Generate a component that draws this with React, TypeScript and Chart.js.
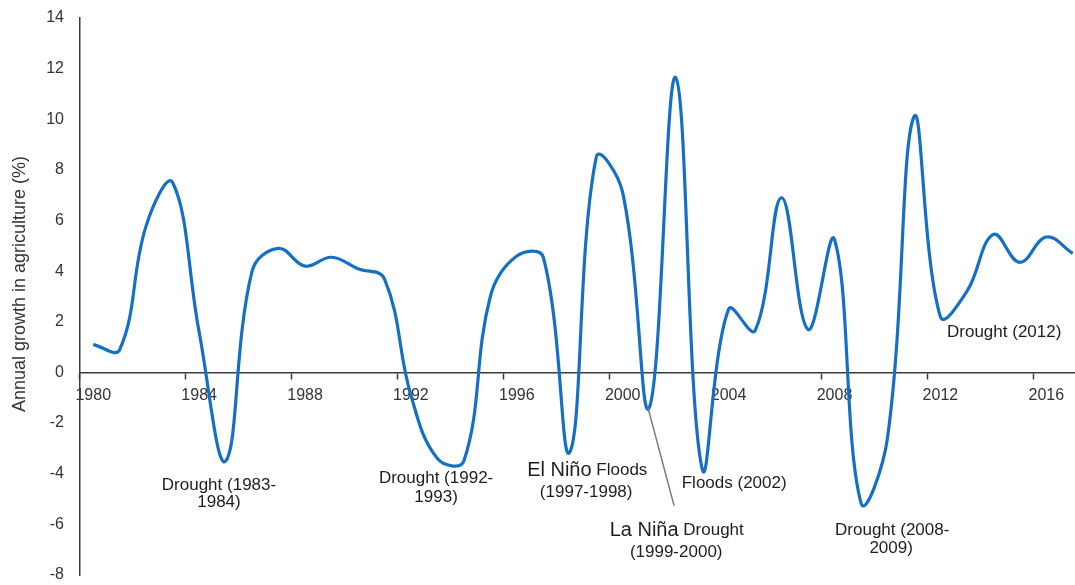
import React, { useEffect, useRef } from 'react';
import { Chart, registerables } from 'chart.js';

Chart.register(...registerables);

// ---- data ----
const YEARS: string[] = [
  '1980', '1981', '1982', '1983', '1984', '1985', '1986', '1987', '1988', '1989',
  '1990', '1991', '1992', '1993', '1994', '1995', '1996', '1997', '1998', '1999',
  '2000', '2001', '2002', '2003', '2004', '2005', '2006', '2007', '2008', '2009',
  '2010', '2011', '2012', '2013', '2014', '2015', '2016', '2017',
];

const GROWTH: number[] = [
  1.1, 0.9, 5.8, 7.5, 1.6, -3.5, 4.0, 4.9, 4.2, 4.55,
  4.1, 3.7, -0.9, -3.4, -3.5, 3.0, 4.6, 4.55, -3.15, 8.5,
  7.1, -1.4, 11.65, -3.8, 2.5, 1.65, 6.9, 1.7, 5.25, -5.15,
  -2.6, 10.1, 2.2, 3.2, 5.45, 4.35, 5.35, 4.7,
];

const Y_MIN = -8;
const Y_MAX = 14;
const Y_STEP = 2;
const X_LABEL_EVERY = 4;
const Y_TITLE = 'Annual growth in agriculture (%)';

type Seg = { text: string; big?: boolean };
type Line = { at: number; value: number; segs: Seg[] };

// annotation anchors in data space: `at` = category index, `value` = y value
const ANNOTATIONS: Line[] = [
  { at: 4.75, value: -4.47, segs: [{ text: 'Drought (1983-' }] },
  { at: 4.75, value: -5.14, segs: [{ text: '1984)' }] },
  { at: 12.95, value: -4.19, segs: [{ text: 'Drought (1992-' }] },
  { at: 12.95, value: -4.94, segs: [{ text: '1993)' }] },
  { at: 18.66, value: -3.87, segs: [{ text: 'El Niño', big: true }, { text: ' Floods' }] },
  { at: 18.62, value: -4.74, segs: [{ text: '(1997-1998)' }] },
  { at: 22.04, value: -6.25, segs: [{ text: 'La Niña', big: true }, { text: ' Drought' }] },
  { at: 22.02, value: -7.11, segs: [{ text: '(1999-2000)' }] },
  { at: 24.21, value: -4.39, segs: [{ text: 'Floods (2002)' }] },
  { at: 30.18, value: -6.25, segs: [{ text: 'Drought (2008-' }] },
  { at: 30.14, value: -6.96, segs: [{ text: '2009)' }] },
  { at: 34.41, value: 1.58, segs: [{ text: 'Drought (2012)' }] },
];

// leader line from the 2000/01 dip to the La Niña note
const LEADER = { from: { at: 20.95, value: -1.38 }, to: { at: 21.94, value: -5.26 } };

const FONT = '"Liberation Sans", Arial, sans-serif';
const SMALL_FONT = `17px ${FONT}`;
const BIG_FONT = `20px ${FONT}`;
const TEXT_COLOR = '#1e1e1e';
const AXIS_COLOR = '#3c3c3c';
const LINE_COLOR = '#1570c4';

const annotationPlugin = {
  id: 'annotations',
  afterDraw(chart: any) {
    const { ctx } = chart;
    const xs = chart.scales.x;
    const ys = chart.scales.y;

    // y-axis title
    ctx.save();
    ctx.translate(20, 284);
    ctx.rotate(-Math.PI / 2);
    ctx.font = `18px ${FONT}`;
    ctx.fillStyle = '#333';
    ctx.textAlign = 'center';
    ctx.textBaseline = 'middle';
    ctx.fillText(Y_TITLE, 0, 0);
    ctx.restore();

    // leader line
    ctx.save();
    ctx.strokeStyle = '#7a7a7a';
    ctx.lineWidth = 1.5;
    ctx.beginPath();
    ctx.moveTo(xs.getPixelForValue(LEADER.from.at), ys.getPixelForValue(LEADER.from.value));
    ctx.lineTo(xs.getPixelForValue(LEADER.to.at), ys.getPixelForValue(LEADER.to.value));
    ctx.stroke();
    ctx.restore();

    // notes
    ctx.save();
    ctx.fillStyle = TEXT_COLOR;
    ctx.textBaseline = 'middle';
    ctx.textAlign = 'left';
    for (const line of ANNOTATIONS) {
      const cx = xs.getPixelForValue(line.at);
      const cy = ys.getPixelForValue(line.value);
      const widths = line.segs.map((s) => {
        ctx.font = s.big ? BIG_FONT : SMALL_FONT;
        return ctx.measureText(s.text).width;
      });
      const total = widths.reduce((a, b) => a + b, 0);
      let x = cx - total / 2;
      line.segs.forEach((s, i) => {
        ctx.font = s.big ? BIG_FONT : SMALL_FONT;
        ctx.fillText(s.text, x, cy);
        x += widths[i];
      });
    }
    ctx.restore();
  },
};

export default function App() {
  const canvasRef = useRef<HTMLCanvasElement | null>(null);

  useEffect(() => {
    if (!canvasRef.current) return;
    const chart = new Chart(canvasRef.current, {
      type: 'line',
      data: {
        labels: YEARS,
        datasets: [
          {
            data: GROWTH,
            borderColor: LINE_COLOR,
            borderWidth: 3.2,
            pointRadius: 0,
            pointHoverRadius: 0,
            tension: 0.4,
            fill: false,
          },
        ],
      },
      options: {
        animation: false,
        responsive: true,
        maintainAspectRatio: false,
        layout: { padding: { top: 18, bottom: 10, left: 0, right: 0 } },
        plugins: {
          legend: { display: false },
          tooltip: { enabled: false },
        },
        scales: {
          x: {
            type: 'category',
            position: { y: 0 } as any,
            offset: true,
            grid: {
              display: true,
              offset: true,
              drawOnChartArea: false,
              drawTicks: true,
              tickLength: 6,
              tickWidth: 1.5,
              tickColor: (c: any) => (c.index % X_LABEL_EVERY === 0 ? AXIS_COLOR : 'rgba(0,0,0,0)'),
            },
            border: { display: true, color: AXIS_COLOR, width: 1.5 },
            ticks: {
              autoSkip: false,
              maxRotation: 0,
              minRotation: 0,
              padding: 8,
              color: '#333',
              font: { family: FONT, size: 16 },
              callback: (_v: any, i: number) => (i % X_LABEL_EVERY === 0 ? YEARS[i] : ''),
            },
          },
          y: {
            min: Y_MIN,
            max: Y_MAX,
            grid: {
              display: true,
              drawOnChartArea: false,
              drawTicks: true,
              tickLength: 16,
              tickColor: 'rgba(0,0,0,0)',
            },
            border: { display: true, color: AXIS_COLOR, width: 1.5 },
            ticks: {
              stepSize: Y_STEP,
              padding: 0,
              color: '#333',
              font: { family: FONT, size: 16 },
            },
            afterFit: (s: any) => {
              s.width = 80;
            },
          },
        },
      },
      plugins: [annotationPlugin],
    });
    return () => chart.destroy();
  }, []);

  return (
    <div
      style={{
        position: 'fixed',
        left: 0,
        top: 0,
        width: 1075,
        height: 585,
        overflow: 'hidden',
        background: '#fff',
      }}
    >
      <div style={{ position: 'relative', width: 1086, height: 585 }}>
        <canvas ref={canvasRef} />
      </div>
    </div>
  );
}
